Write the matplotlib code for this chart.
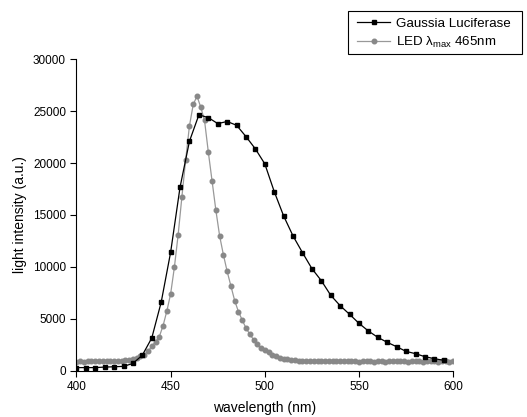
import matplotlib
matplotlib.use("Agg")
import matplotlib.pyplot as plt
from matplotlib.patches import Rectangle
import numpy as np

plt.rcParams['font.family'] = ['Liberation Sans', 'DejaVu Sans']
plt.rcParams['mathtext.fontset'] = 'custom'
plt.rcParams['mathtext.rm'] = 'Liberation Sans'
plt.rcParams['mathtext.it'] = 'Liberation Sans:italic'

# Gaussia luciferase emission, every 5 nm
gluc_nm = list(range(400, 600, 5))
gluc_int = [300, 300, 300, 350, 380, 420, 700, 1500, 3150, 6600,
            11400, 17670, 22100, 24640, 24380, 23800, 24000, 23640, 22550, 21360,
            19920, 17250, 14900, 12970, 11370, 9830, 8670, 7260, 6260, 5430,
            4560, 3820, 3210, 2730, 2310, 1860, 1640, 1350, 1160, 1000]

# LED spectrum, every 2 nm
led_nm = list(range(400, 602, 2))
led_int = [880, 890, 880, 890, 900, 890, 900, 910, 900, 920,
           930, 940, 960, 990, 1050, 1150, 1250, 1400, 1550, 1860,
           2350, 2800, 3280, 4340, 5750, 7390, 9960, 13100, 16770, 20330,
           23580, 25640, 26440, 25380, 24100, 21080, 18280, 15480, 13000, 11180,
           9570, 8160, 6750, 5690, 4880, 4110, 3530, 2990, 2570, 2180,
           1990, 1770, 1540, 1380, 1250, 1160, 1090, 1030, 990, 960,
           950, 940, 930, 920, 940, 920, 910, 930, 900, 920,
           940, 910, 900, 960, 920, 880, 900, 930, 910, 870,
           900, 920, 880, 900, 910, 890, 930, 900, 880, 910,
           890, 900, 880, 910, 890, 900, 870, 890, 900, 880,
           900]

W, H = 527, 417
fig = plt.figure(figsize=(W / 100, H / 100), dpi=100)
ax = fig.add_axes([0.145, 0.111, 0.715, 0.747])

ax.plot(gluc_nm, gluc_int, color='black', lw=0.9, marker='s', ms=3.3,
        label='Gaussia Luciferase', zorder=3)
ax.plot(led_nm, led_int, color='#999999', lw=0.9, marker='o', ms=3.3,
        mfc='#888888', mec='#888888', label=r'LED λ$_{\mathrm{max}}$ 465nm', zorder=2)

ax.set_xlim(400, 600)
ax.set_ylim(0, 30000)
ax.set_xticks([400, 450, 500, 550, 600])
ax.set_yticks(np.arange(0, 30001, 5000))
ax.spines['top'].set_visible(False)
ax.spines['right'].set_visible(False)
ax.tick_params(direction='out', length=4, width=0.8, labelsize=8.5)
ax.set_xlabel('wavelength (nm)', fontsize=10, labelpad=6)
ax.set_ylabel('light intensity (a.u.)', fontsize=10, labelpad=4)

# legend without its own frame, box drawn separately
leg = fig.legend(loc='upper left', bbox_to_anchor=(357 / W, 1 - 17.5 / H),
                 fontsize=9.6, frameon=False, borderpad=0, handlelength=2.5,
                 labelspacing=0.4, handletextpad=0.4, borderaxespad=0)
fig.patches.append(Rectangle((348 / W, 1 - 54 / H), 174 / W, 43 / H,
                             transform=fig.transFigure, fill=False,
                             edgecolor='black', lw=0.8))

fig.savefig('out.png', dpi=100)
